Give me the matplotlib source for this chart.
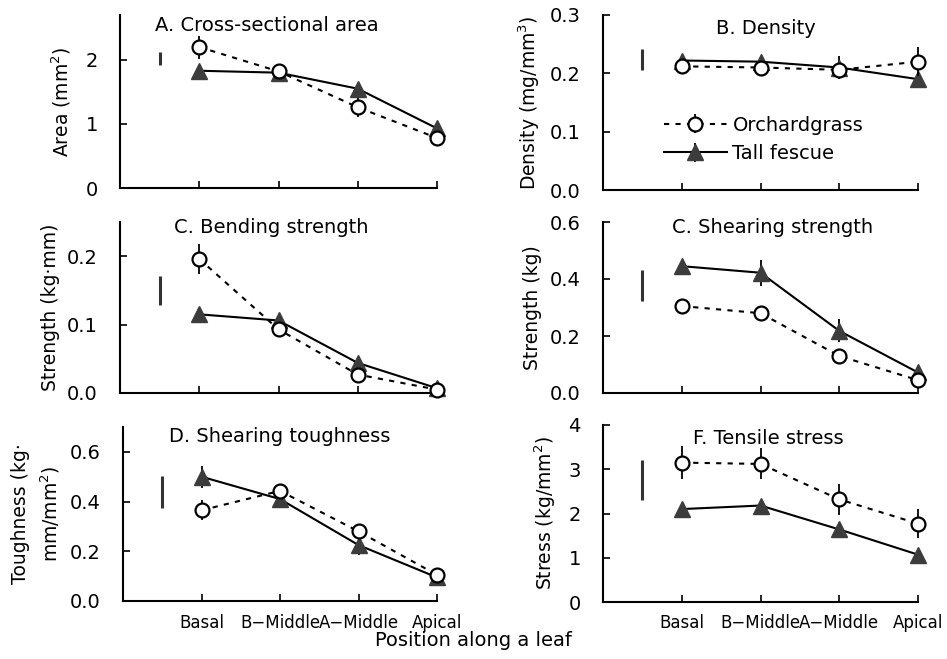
import matplotlib
matplotlib.use("Agg")
import matplotlib.pyplot as plt

plt.rcParams['font.family'] = ['DejaVu Sans']
plt.rcParams['font.size'] = 13

# ===== data =====
positions = ["Basal", "B\u2212Middle", "A\u2212Middle", "Apical"]

area_og = [2.20, 1.82, 1.26, 0.78]
area_og_err = [0.18, 0.05, 0.15, 0.05]
area_tf = [1.83, 1.80, 1.55, 0.93]
area_tf_err = [0.03, 0.05, 0.05, 0.04]
area_lsd = [1.92, 2.13]

dens_og = [0.212, 0.210, 0.206, 0.220]
dens_og_err = [0.005, 0.005, 0.010, 0.025]
dens_tf = [0.222, 0.220, 0.210, 0.190]
dens_tf_err = [0.005, 0.008, 0.020, 0.010]
dens_lsd = [0.206, 0.242]

bend_og = [0.196, 0.093, 0.027, 0.005]
bend_og_err = [0.022, 0.005, 0.005, 0.002]
bend_tf = [0.115, 0.106, 0.044, 0.007]
bend_tf_err = [0.005, 0.005, 0.005, 0.002]
bend_lsd = [0.129, 0.171]

shear_og = [0.305, 0.280, 0.130, 0.045]
shear_og_err = [0.010, 0.020, 0.020, 0.020]
shear_tf = [0.445, 0.422, 0.218, 0.072]
shear_tf_err = [0.020, 0.045, 0.040, 0.020]
shear_lsd = [0.324, 0.432]

tough_og = [0.365, 0.443, 0.280, 0.105]
tough_og_err = [0.040, 0.020, 0.020, 0.010]
tough_tf = [0.500, 0.410, 0.225, 0.095]
tough_tf_err = [0.045, 0.035, 0.040, 0.010]
tough_lsd = [0.376, 0.502]

tens_og = [3.15, 3.12, 2.32, 1.77]
tens_og_err = [0.38, 0.35, 0.35, 0.33]
tens_tf = [2.10, 2.18, 1.64, 1.07]
tens_tf_err = [0.05, 0.08, 0.08, 0.05]
tens_lsd = [2.30, 3.20]

# ===== panel layout (pixel boxes of the reference) =====
W, H = 947, 659
def rect(x0, x1, top, bot):
    return [x0 / W, 1 - bot / H, (x1 - x0) / W, (bot - top) / H]

panels = [
    (rect(120, 437, 15, 188), "A. Cross-sectional area", (0.11, 0.94),
     "Area (mm$^2$)", -0.148, 2.7, [0, 1, 2], "{:.0f}",
     area_og, area_og_err, area_tf, area_tf_err, area_lsd),
    (rect(603, 918, 15, 190), "B. Density", (0.36, 0.925),
     "Density (mg/mm$^3$)", -0.194, 0.3, [0, 0.1, 0.2, 0.3], "{:.1f}",
     dens_og, dens_og_err, dens_tf, dens_tf_err, dens_lsd),
    (rect(120, 437, 222, 393), "C. Bending strength", (0.17, 0.965),
     "Strength (kg\u00b7mm)", -0.19, 0.25, [0, 0.1, 0.2], "{:.1f}",
     bend_og, bend_og_err, bend_tf, bend_tf_err, bend_lsd),
    (rect(603, 918, 222, 393), "C. Shearing strength", (0.22, 0.965),
     "Strength (kg)", -0.194, 0.6, [0, 0.2, 0.4, 0.6], "{:.1f}",
     shear_og, shear_og_err, shear_tf, shear_tf_err, shear_lsd),
    (rect(123, 437, 427, 601), "D. Shearing toughness", (0.145, 0.945),
     "Toughness (kg\u00b7\nmm/mm$^2$)", -0.195, 0.7, [0, 0.2, 0.4, 0.6], "{:.1f}",
     tough_og, tough_og_err, tough_tf, tough_tf_err, tough_lsd),
    (rect(603, 918, 425, 602), "F. Tensile stress", (0.285, 0.925),
     "Stress (kg/mm$^2$)", -0.143, 4, [0, 1, 2, 3, 4], "{:.0f}",
     tens_og, tens_og_err, tens_tf, tens_tf_err, tens_lsd),
]

fig = plt.figure(figsize=(9.47, 6.59), dpi=100)
x = list(range(len(positions)))

for i, (r, title, tpos, ylab, labx, ytop, yt, fmt,
        og, og_e, tf, tf_e, lsd) in enumerate(panels):
    ax = fig.add_axes(r)
    ax.errorbar(x, tf, yerr=tf_e, color="black", lw=1.5, ls="-",
                marker="^", ms=12, mfc="#3c3c3c", mec="#3c3c3c",
                ecolor="black", elinewidth=1.3, capsize=0,
                label="Tall fescue", clip_on=False, zorder=3)
    ax.errorbar(x, og, yerr=og_e, color="black", lw=1.5, ls=(0, (2.5, 3)),
                marker="o", ms=10, mfc="white", mec="black", mew=1.6,
                ecolor="black", elinewidth=1.3, capsize=0,
                label="Orchardgrass", clip_on=False, zorder=4)
    ax.vlines(-0.5, lsd[0], lsd[1], color="#333333", lw=2.2)

    ax.set_xlim(-1, 3)
    ax.set_ylim(0, ytop)
    ax.set_yticks(yt)
    ax.set_yticklabels([fmt.format(v) for v in yt], fontsize=14)
    ax.set_xticks(x)
    if i >= 4:
        ax.set_xticklabels(positions, fontsize=12)
    else:
        ax.set_xticklabels([])
    ax.tick_params(direction="in", length=5, width=1.2)
    ax.tick_params(axis="y", pad=16)
    ax.tick_params(axis="x", pad=9)
    for s in ["top", "right"]:
        ax.spines[s].set_visible(False)
    for s in ["left", "bottom"]:
        ax.spines[s].set_linewidth(1.5)
    ax.text(tpos[0], tpos[1], title, transform=ax.transAxes,
            ha="left", va="center", fontsize=14)
    ax.set_ylabel(ylab, fontsize=13.5, linespacing=1.45)
    ax.yaxis.set_label_coords(labx, 0.5)

    if i == 1:
        h, l = ax.get_legend_handles_labels()
        ax.legend(h[::-1], l[::-1], loc="upper left",
                  bbox_to_anchor=(0.17, 0.47), frameon=False,
                  handlelength=3.2, handletextpad=0.3, labelspacing=0.5,
                  fontsize=14, borderaxespad=0)

fig.text(473 / W, 1 - 640 / H, "Position along a leaf", ha="center",
         va="center", fontsize=14)

fig.savefig("out.png", dpi=100)
